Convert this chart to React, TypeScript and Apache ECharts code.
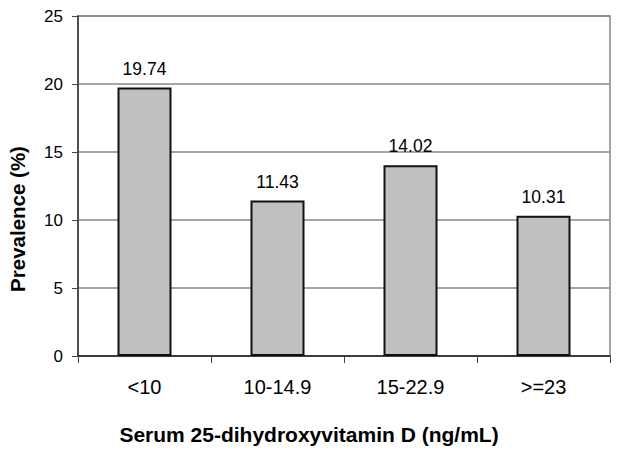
import React, { useEffect, useRef } from "react";
import * as echarts from "echarts";

const categories = ["<10", "10-14.9", "15-22.9", ">=23"];
const prevalence = [19.74, 11.43, 14.02, 10.31];
const yTicks = { min: 0, max: 25, interval: 5 };
const xAxisName = "Serum 25-dihydroxyvitamin D (ng/mL)";
const yAxisName = "Prevalence (%)";

export default function App() {
  const ref = useRef<HTMLDivElement>(null);
  useEffect(() => {
    if (!ref.current) return;
    const chart = echarts.init(ref.current, undefined, { renderer: "svg" });
    const font = "'Liberation Sans', Arial, sans-serif";
    chart.setOption({
      animation: false,
      backgroundColor: "#ffffff",
      grid: {
        left: 78,
        right: 11,
        top: 16,
        bottom: 97,
        show: true,
        borderColor: "#888888",
        borderWidth: 1.5,
      },
      graphic: [
        {
          type: "text",
          x: 309,
          y: 434,
          style: {
            text: xAxisName,
            fill: "#000",
            font: `bold 21px ${font}`,
            align: "center",
            verticalAlign: "middle",
          },
        },
        {
          type: "text",
          x: 17,
          y: 219,
          rotation: Math.PI / 2,
          style: {
            text: yAxisName,
            fill: "#000",
            font: `bold 20.5px ${font}`,
            align: "center",
            verticalAlign: "middle",
          },
        },
      ],
      xAxis: {
        type: "category",
        data: categories,
        axisLine: { lineStyle: { color: "#222", width: 1.5 } },
        axisTick: { show: true, length: 7, lineStyle: { color: "#444" } },
        axisLabel: { fontFamily: font, fontSize: 20, color: "#000", margin: 21 },
      },
      yAxis: {
        type: "value",
        min: yTicks.min,
        max: yTicks.max,
        interval: yTicks.interval,
        axisLine: { show: true, lineStyle: { color: "#333", width: 1.5 } },
        axisTick: { show: true, length: 6, lineStyle: { color: "#444" } },
        axisLabel: { fontFamily: font, fontSize: 17, color: "#000", margin: 15 },
        splitLine: { lineStyle: { color: "#888888", width: 1.5 } },
      },
      series: [
        {
          type: "bar",
          data: prevalence,
          barWidth: 54,
          itemStyle: { color: "#c0c0c0", borderColor: "#111", borderWidth: 2 },
          label: {
            show: true,
            position: "top",
            distance: 10,
            fontFamily: font,
            fontSize: 17.5,
            color: "#000",
            formatter: (p: any) => p.value.toFixed(2),
          },
        },
      ],
    });
    return () => chart.dispose();
  }, []);
  return (
    <div
      ref={ref}
      style={{ position: "fixed", left: 0, top: 0, width: 621, height: 453 }}
    />
  );
}
